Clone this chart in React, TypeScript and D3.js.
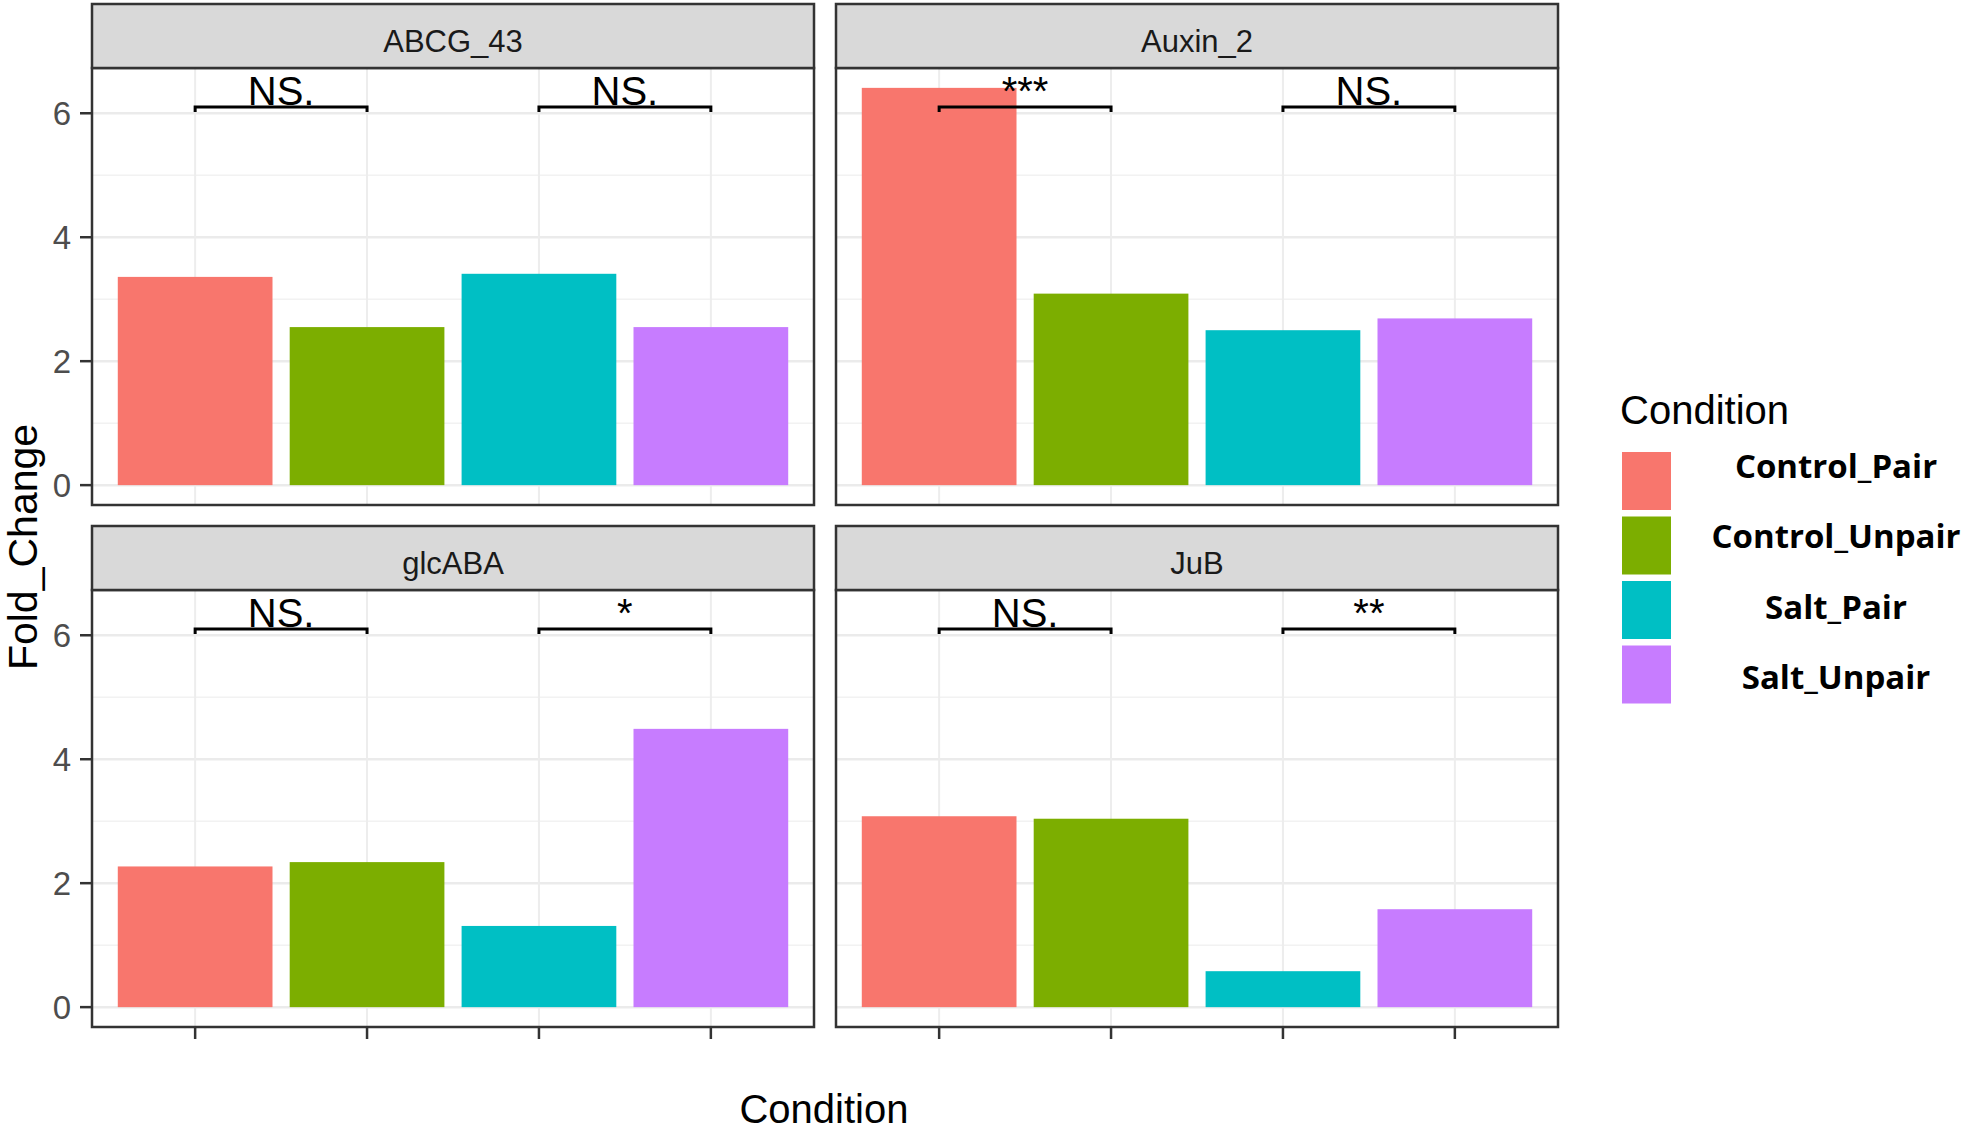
import { useEffect, useRef } from 'react';
import * as d3 from 'd3';

const genes = ['ABCG_43', 'Auxin_2', 'glcABA', 'JuB'];
const conditions = ['Control_Pair', 'Control_Unpair', 'Salt_Pair', 'Salt_Unpair'];

// Fold change per gene, in condition order
const abcg43 = [3.36, 2.55, 3.41, 2.55];
const auxin2 = [6.41, 3.09, 2.5, 2.69];
const glcaba = [2.27, 2.34, 1.31, 4.49];
const jub = [3.08, 3.04, 0.58, 1.58];
const geneValues = [abcg43, auxin2, glcaba, jub];

const comparisons = [
  ['Control_Pair', 'Control_Unpair'],
  ['Salt_Pair', 'Salt_Unpair'],
];
const signifLabels = [
  ['NS.', 'NS.'],
  ['***', 'NS.'],
  ['NS.', '*'],
  ['NS.', '**'],
];
const bracketLevel = 6.1;
const tipLevel = 6.02;

const yTicks = [0, 2, 4, 6];
const yMinor = [1, 3, 5];

const COLORS = ['#F8766D', '#7CAE00', '#00BFC4', '#C77CFF'];

const FONT = '"Liberation Sans", Arial, sans-serif';

export default function App() {
  const svgRef = useRef<SVGSVGElement>(null);

  useEffect(() => {
    if (!svgRef.current) return;
    const svg = d3.select(svgRef.current);
    svg.selectAll('*').remove();

    const width = 1969;
    const height = 1132;
    svg.attr('width', width).attr('height', height).attr('viewBox', `0 0 ${width} ${height}`);

    svg.append('rect').attr('width', width).attr('height', height).attr('fill', '#ffffff');

    // facet grid geometry
    const panelW = 722;
    const panelGap = 22;
    const stripH = 64;
    const panelH = 437;
    const colX = [92, 92 + panelW + panelGap];
    const rowTop = [4, 526];

    const maxVal = d3.max(geneValues.flat()) || 0;
    const yDomain: [number, number] = [-0.05 * maxVal, maxVal * 1.05];

    genes.forEach((gene, gi) => {
      const col = gi % 2;
      const row = Math.floor(gi / 2);
      const x0 = colX[col];
      const stripTop = rowTop[row];
      const pTop = stripTop + stripH;
      const pBottom = pTop + panelH;

      const x = d3
        .scaleBand()
        .domain(conditions)
        .range([x0, x0 + panelW])
        .paddingInner(0.1)
        .paddingOuter(0.15);
      const y = d3.scaleLinear().domain(yDomain).range([pBottom, pTop]);
      const cx = (c: string) => (x(c) || 0) + x.bandwidth() / 2;

      const g = svg.append('g');

      g.append('rect')
        .attr('x', x0)
        .attr('y', pTop)
        .attr('width', panelW)
        .attr('height', panelH)
        .attr('fill', '#ffffff');

      // minor grid
      g.selectAll('.minor')
        .data(yMinor)
        .enter()
        .append('line')
        .attr('x1', x0)
        .attr('x2', x0 + panelW)
        .attr('y1', (d) => y(d))
        .attr('y2', (d) => y(d))
        .attr('stroke', '#F2F2F2')
        .attr('stroke-width', 1.5);

      // major grid
      g.selectAll('.major')
        .data(yTicks)
        .enter()
        .append('line')
        .attr('x1', x0)
        .attr('x2', x0 + panelW)
        .attr('y1', (d) => y(d))
        .attr('y2', (d) => y(d))
        .attr('stroke', '#EBEBEB')
        .attr('stroke-width', 2.5);

      g.selectAll('.vgrid')
        .data(conditions)
        .enter()
        .append('line')
        .attr('x1', (d) => cx(d))
        .attr('x2', (d) => cx(d))
        .attr('y1', pTop)
        .attr('y2', pBottom)
        .attr('stroke', '#EDEDED')
        .attr('stroke-width', 2);

      // bars
      g.selectAll('.bar')
        .data(geneValues[gi])
        .enter()
        .append('rect')
        .attr('x', (_, i) => x(conditions[i]) || 0)
        .attr('y', (d) => y(d))
        .attr('width', x.bandwidth())
        .attr('height', (d) => y(0) - y(d))
        .attr('fill', (_, i) => COLORS[i]);

      // significance brackets
      comparisons.forEach((pair, ci) => {
        const xa = cx(pair[0]);
        const xb = cx(pair[1]);
        g.append('path')
          .attr(
            'd',
            `M${xa},${y(tipLevel)}V${y(bracketLevel)}H${xb}V${y(tipLevel)}`
          )
          .attr('fill', 'none')
          .attr('stroke', '#000000')
          .attr('stroke-width', 3);
        g.append('text')
          .attr('x', (xa + xb) / 2)
          .attr('y', y(bracketLevel) - 2)
          .attr('text-anchor', 'middle')
          .style('font-family', FONT)
          .style('font-size', '40px')
          .attr('fill', '#000000')
          .text(signifLabels[gi][ci]);
      });

      // panel border
      g.append('rect')
        .attr('x', x0)
        .attr('y', pTop)
        .attr('width', panelW)
        .attr('height', panelH)
        .attr('fill', 'none')
        .attr('stroke', '#333333')
        .attr('stroke-width', 2.5);

      // strip
      g.append('rect')
        .attr('x', x0)
        .attr('y', stripTop)
        .attr('width', panelW)
        .attr('height', stripH)
        .attr('fill', '#D9D9D9')
        .attr('stroke', '#333333')
        .attr('stroke-width', 2.5);
      g.append('text')
        .attr('x', x0 + panelW / 2)
        .attr('y', stripTop + 48)
        .attr('text-anchor', 'middle')
        .style('font-family', FONT)
        .style('font-size', '31px')
        .attr('fill', '#1A1A1A')
        .text(gene);

      // y axis on left column
      if (col === 0) {
        const ya = g.append('g');
        ya.selectAll('line')
          .data(yTicks)
          .enter()
          .append('line')
          .attr('x1', x0 - 12)
          .attr('x2', x0)
          .attr('y1', (d) => y(d))
          .attr('y2', (d) => y(d))
          .attr('stroke', '#333333')
          .attr('stroke-width', 2.5);
        ya.selectAll('text')
          .data(yTicks)
          .enter()
          .append('text')
          .attr('x', x0 - 21)
          .attr('y', (d) => y(d) + 12)
          .attr('text-anchor', 'end')
          .style('font-family', FONT)
          .style('font-size', '33px')
          .attr('fill', '#4D4D4D')
          .text((d) => String(d));
      }

      // x axis ticks on bottom row
      if (row === 1) {
        g.selectAll('.xtick')
          .data(conditions)
          .enter()
          .append('line')
          .attr('x1', (d) => cx(d))
          .attr('x2', (d) => cx(d))
          .attr('y1', pBottom)
          .attr('y2', pBottom + 12)
          .attr('stroke', '#333333')
          .attr('stroke-width', 2.5);
      }
    });

    // axis titles
    svg
      .append('text')
      .attr('transform', `translate(37,547) rotate(-90)`)
      .attr('text-anchor', 'middle')
      .style('font-family', FONT)
      .style('font-size', '41px')
      .attr('fill', '#000000')
      .text('Fold_Change');

    svg
      .append('text')
      .attr('x', 824)
      .attr('y', 1123)
      .attr('text-anchor', 'middle')
      .style('font-family', FONT)
      .style('font-size', '40px')
      .attr('fill', '#000000')
      .text('Condition');

    // legend
    const legend = svg.append('g').attr('transform', 'translate(1622,0)');
    legend
      .append('text')
      .attr('x', -2)
      .attr('y', 424)
      .style('font-family', FONT)
      .style('font-size', '40px')
      .attr('fill', '#000000')
      .text('Condition');

    const keyTop = 452;
    const keyStep = 64.5;
    const labelTop = 467;
    const labelStep = 70.5;
    conditions.forEach((c, i) => {
      legend
        .append('rect')
        .attr('x', 0)
        .attr('y', keyTop + i * keyStep)
        .attr('width', 49)
        .attr('height', 58)
        .attr('fill', COLORS[i]);
      legend
        .append('text')
        .attr('x', 214)
        .attr('y', labelTop + i * labelStep)
        .attr('dy', '0.32em')
        .attr('text-anchor', 'middle')
        .style('font-family', '"Open Sans", "DejaVu Sans", sans-serif')
        .style('font-weight', 700)
        .style('font-size', '33px')
        .attr('fill', '#000000')
        .text(c);
    });
  }, []);

  return (
    <div style={{ position: 'absolute', left: 0, top: 0 }}>
      <svg ref={svgRef} />
    </div>
  );
}
